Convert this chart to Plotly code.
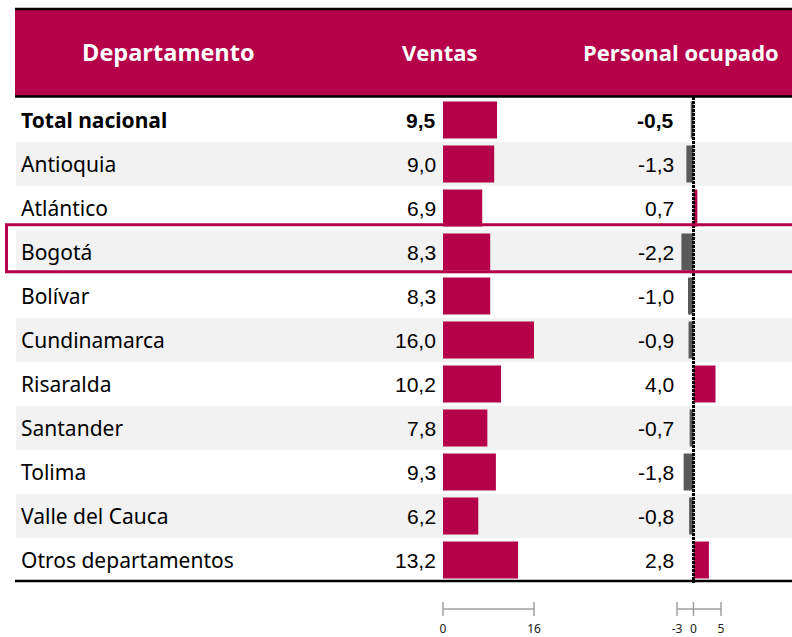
import plotly.graph_objects as go

departamentos = ["Total nacional", "Antioquia", "Atlántico", "Bogotá", "Bolívar",
                 "Cundinamarca", "Risaralda", "Santander", "Tolima",
                 "Valle del Cauca", "Otros departamentos"]
ventas = [9.5, 9.0, 6.9, 8.3, 8.3, 16.0, 10.2, 7.8, 9.3, 6.2, 13.2]
personal = [-0.5, -1.3, 0.7, -2.2, -1.0, -0.9, 4.0, -0.7, -1.8, -0.8, 2.8]
ventas_scale = [0, 16]
personal_scale = [-3, 0, 5]
headers = ["Departamento", "Ventas", "Personal ocupado"]

CRIMSON = "#B5004A"
GREY = "#595959"
W, H = 792, 637

def fmt(v):
    return f"{v:.1f}".replace(".", ",")

rows = list(range(len(departamentos)))

def py(px):  # pixel y -> row coordinate
    return (px - 120) / 44.0

def pxx(px):
    return px / W

fig = go.Figure()

# Ventas bars
fig.add_trace(go.Bar(x=ventas, y=rows, orientation="h", xaxis="x", yaxis="y",
                     marker=dict(color=CRIMSON, line=dict(width=0)), width=0.84,
                     hoverinfo="skip"))
# Personal bars
fig.add_trace(go.Bar(x=personal, y=rows, orientation="h", xaxis="x2", yaxis="y",
                     marker=dict(color=[CRIMSON if v > 0 else GREY for v in personal],
                                 line=dict(width=0)), width=0.84, hoverinfo="skip"))
# zero line
fig.add_trace(go.Scatter(x=[0, 0], y=[-0.52, 10.52], xaxis="x2", yaxis="y", mode="lines",
                         line=dict(color="black", width=3, dash="3px,1px"),
                         hoverinfo="skip"))

# scale bars
sy = py(609)
ly = py(630)
for xs, ax in [(ventas_scale, "x"), (personal_scale, "x2")]:
    fig.add_trace(go.Scatter(x=xs, y=[sy] * len(xs), xaxis=ax, yaxis="y",
                             mode="lines+markers", cliponaxis=False,
                             line=dict(color="#a0a0a0", width=1.5),
                             marker=dict(symbol="line-ns-open", size=10,
                                         line=dict(color="#a0a0a0", width=1.5)),
                             hoverinfo="skip"))
    fig.add_trace(go.Scatter(x=xs, y=[ly] * len(xs), xaxis=ax, yaxis="y",
                             mode="text", text=[str(v) for v in xs], cliponaxis=False,
                             textfont=dict(family="Noto Sans", size=12, color="#222"),
                             hoverinfo="skip"))

shapes = []
# row shading
for i in rows:
    if i % 2 == 1:
        shapes.append(dict(type="rect", xref="paper", yref="y", x0=pxx(16), x1=1,
                           y0=i - 0.5, y1=i + 0.5, fillcolor="#f2f2f2",
                           line=dict(width=0), layer="below"))
# header
shapes.append(dict(type="rect", xref="paper", yref="y", x0=pxx(15), x1=1,
                   y0=py(9), y1=py(96.5), fillcolor=CRIMSON, line=dict(width=0), layer="below"))
for yy in [9, 96.5, 581]:
    shapes.append(dict(type="line", xref="paper", yref="y", x0=pxx(15), x1=1,
                       y0=py(yy), y1=py(yy), line=dict(color="black", width=2.5)))
# Bogotá highlight
bi = departamentos.index("Bogotá")
shapes.append(dict(type="rect", xref="paper", yref="y", x0=pxx(6.5), x1=1.01,
                   y0=bi - 0.62, y1=bi + 0.45, line=dict(color=CRIMSON, width=3),
                   fillcolor="rgba(0,0,0,0)"))

annotations = []
hx = [168, 440, 681]
hs = [23.5, 22, 22]
for h, x, s in zip(headers, hx, hs):
    annotations.append(dict(text=f"<b>{h}</b>", x=pxx(x), xref="paper", y=py(52), yref="y",
                            showarrow=False, xanchor="center", yanchor="middle",
                            font=dict(family="Open Sans", size=s, color="white")))
for i, (d, v, p) in enumerate(zip(departamentos, ventas, personal)):
    bold = i == 0
    lab = f"<b>{d}</b>" if bold else d
    annotations.append(dict(text=lab, x=pxx(19), xref="paper", y=i, yref="y",
                            showarrow=False, xanchor="left", yanchor="middle",
                            font=dict(family="Noto Sans", size=21, color="black")))
    vt = f"<b>{fmt(v)}</b>" if bold else fmt(v)
    pt = f"<b>{fmt(p)}</b>" if bold else fmt(p)
    annotations.append(dict(text=vt, x=pxx(438), xref="paper", y=i, yref="y",
                            showarrow=False, xanchor="right", yanchor="middle",
                            font=dict(family="Liberation Sans", size=21, color="black")))
    annotations.append(dict(text=pt, x=pxx(676), xref="paper", y=i, yref="y",
                            showarrow=False, xanchor="right", yanchor="middle",
                            font=dict(family="Liberation Sans", size=21, color="black")))

k1 = 5.6875
k2 = 5.5
fig.update_layout(
    width=W, height=H, margin=dict(l=0, r=0, t=0, b=0),
    paper_bgcolor="white", plot_bgcolor="rgba(0,0,0,0)",
    showlegend=False, barmode="overlay",
    xaxis=dict(domain=[443 / W, 580 / W], range=[0, (580 - 443) / k1], visible=False,
               fixedrange=True),
    xaxis2=dict(domain=[640 / W, 1], range=[(640 - 693.5) / k2, (792 - 693.5) / k2],
                visible=False, anchor="y", fixedrange=True),
    yaxis=dict(domain=[0, 1], range=[py(637), py(0)], visible=False, fixedrange=True),
    shapes=shapes, annotations=annotations,
)

fig.write_html("out.html", config={"displayModeBar": False},
               post_script="document.body.style.margin='0';document.body.style.overflow='hidden';")
